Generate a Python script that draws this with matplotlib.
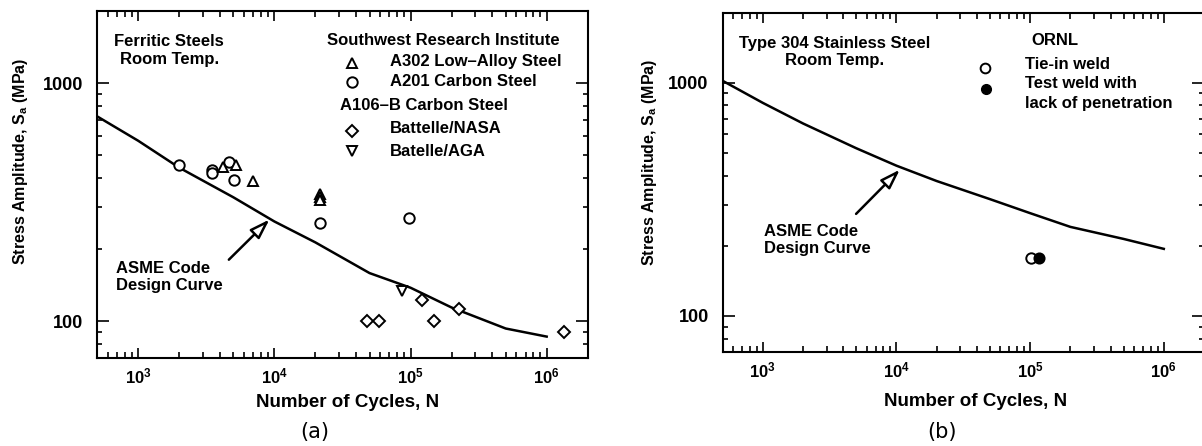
import numpy as np
import matplotlib
matplotlib.use('Agg')
import matplotlib.pyplot as plt
from matplotlib.ticker import LogLocator, NullFormatter

plt.rcParams['font.family'] = ['Liberation Sans', 'DejaVu Sans']
plt.rcParams['font.weight'] = 'bold'
plt.rcParams['axes.labelweight'] = 'bold'
plt.rcParams['mathtext.fontset'] = 'custom'
plt.rcParams['mathtext.rm'] = 'Liberation Sans:bold'
plt.rcParams['mathtext.it'] = 'Liberation Sans:bold'
plt.rcParams['mathtext.bf'] = 'Liberation Sans:bold'

# ASME code design curves (cycles, MPa)
asme_n = [500, 1e3, 2e3, 5e3, 1e4, 2e4, 5e4, 1e5, 2e5, 5e5, 1e6]
asme_cs = [724, 572, 441, 331, 262, 214, 159, 138, 114, 93, 86]      # carbon steel
asme_ss = [1020, 820, 669, 524, 441, 379, 317, 276, 241, 214, 194]   # austenitic SS

# (a) ferritic steels, room temp.
a302_n = [4200, 5220, 6980, 21500, 21500, 21500]
a302_s = [445, 454, 387, 342, 332, 323]
a201_n = [2000, 3460, 3460, 4680, 5090, 21700, 98000]
a201_s = [454, 433, 419, 467, 391, 258, 270]
nasa_n = [48000, 59000, 121000, 148000, 228000, 1.33e6]
nasa_s = [100, 100, 123, 100, 112, 90]
aga_n = [86000]
aga_s = [134]

# (b) type 304 stainless steel, room temp.
tie_n = [1.02e5]
tie_s = [178]
lop_n = [1.17e5]
lop_s = [178]

xticks = [1e3, 1e4, 1e5, 1e6]
xticklabels = [r'$\mathrm{10^{3}}$', r'$\mathrm{10^{4}}$', r'$\mathrm{10^{5}}$', r'$\mathrm{10^{6}}$']
ylab = r'Stress Amplitude, S$_\mathrm{a}$ (MPa)'
xlab = 'Number of Cycles, N'


def style(ax):
    ax.set_xscale('log')
    ax.set_yscale('log')
    ax.set_xlim(500, 2e6)
    ax.set_ylim(70, 2000)
    ax.set_xticks(xticks, xticklabels)
    ax.set_yticks([100, 1000], ['100', '1000'])
    ax.xaxis.set_minor_locator(LogLocator(base=10, subs=np.arange(2, 10)))
    ax.yaxis.set_minor_locator(LogLocator(base=10, subs=np.arange(2, 10)))
    ax.xaxis.set_minor_formatter(NullFormatter())
    ax.yaxis.set_minor_formatter(NullFormatter())
    ax.tick_params(which='both', direction='in', top=True, right=True, width=1.2)
    ax.tick_params(axis='x', which='major', length=7.5, labelsize=12, pad=6)
    ax.tick_params(axis='x', which='minor', length=4.5)
    ax.tick_params(axis='y', which='major', length=8.5, labelsize=13, pad=10)
    ax.tick_params(axis='y', which='minor', length=3.5)
    for sp in ax.spines.values():
        sp.set_linewidth(1.5)


fig = plt.figure(figsize=(12.02, 4.46), dpi=100)
ax1 = fig.add_axes([0.0809, 0.1976, 0.4080, 0.7768])
ax2 = fig.add_axes([0.6011, 0.2105, 0.4006, 0.7614])

arrow = dict(arrowstyle='-|>,head_length=1.2,head_width=0.4', fc='white',
             ec='black', lw=1.8, shrinkA=0, shrinkB=0, mutation_scale=10)

## (a)
style(ax1)
ax1.plot(asme_n, asme_cs, color='black', lw=1.8)
mk = dict(ls='none', mfc='white', mec='black', mew=1.4, clip_on=False)
ax1.plot(a201_n, a201_s, marker='o', ms=7.5, **mk)
ax1.plot(a302_n, a302_s, marker='^', ms=7.5, **mk)
ax1.plot(nasa_n, nasa_s, marker='D', ms=6.3, **mk)
ax1.plot(aga_n, aga_s, marker='v', ms=7.5, **mk)

ax1.annotate('', xy=(9200, 267), xytext=(4630, 181), arrowprops=arrow)
ax1.text(0.039, 0.233, 'ASME Code\nDesign Curve', transform=ax1.transAxes,
         fontsize=12, ha='left', va='center', linespacing=1.2)
ax1.text(0.147, 0.887, 'Ferritic Steels\nRoom Temp.', transform=ax1.transAxes,
         fontsize=12, ha='center', va='center', multialignment='center', linespacing=1.2)

ax1.text(0.705, 0.916, 'Southwest Research Institute', transform=ax1.transAxes,
         fontsize=12, ha='center', va='center')
ax1.text(0.597, 0.855, 'A302 Low–Alloy Steel', transform=ax1.transAxes,
         fontsize=12, ha='left', va='center')
ax1.text(0.597, 0.799, 'A201 Carbon Steel', transform=ax1.transAxes,
         fontsize=12, ha='left', va='center')
ax1.text(0.495, 0.729, 'A106–B Carbon Steel', transform=ax1.transAxes,
         fontsize=12, ha='left', va='center')
ax1.text(0.597, 0.661, 'Battelle/NASA', transform=ax1.transAxes,
         fontsize=12, ha='left', va='center')
ax1.text(0.597, 0.596, 'Batelle/AGA', transform=ax1.transAxes,
         fontsize=12, ha='left', va='center')
ax1.plot([0.519], [0.851], marker='^', ms=7.5, transform=ax1.transAxes, **mk)
ax1.plot([0.519], [0.795], marker='o', ms=7.5, transform=ax1.transAxes, **mk)
ax1.plot([0.519], [0.656], marker='D', ms=6.3, transform=ax1.transAxes, **mk)
ax1.plot([0.519], [0.596], marker='v', ms=7.5, transform=ax1.transAxes, **mk)

ax1.set_xlabel(xlab, fontsize=13.5, va='top')
ax1.xaxis.set_label_coords(0.511, -0.105)
ax1.set_ylabel(ylab, fontsize=11.5, va='center')
ax1.yaxis.set_label_coords(-0.157, 0.567)

## (b)
style(ax2)
ax2.spines['right'].set_visible(False)
ax2.plot(asme_n, asme_ss, color='black', lw=1.8)
ax2.plot(tie_n, tie_s, marker='o', ms=7.5, **mk)
ax2.plot(lop_n, lop_s, ls='none', marker='o', ms=7.5, mfc='black', mec='black', mew=1.2)

ax2.annotate('', xy=(10600, 424), xytext=(4990, 274), arrowprops=arrow)
ax2.text(0.086, 0.33, 'ASME Code\nDesign Curve', transform=ax2.transAxes,
         fontsize=12, ha='left', va='center', linespacing=1.2)
ax2.text(0.232, 0.884, 'Type 304 Stainless Steel\nRoom Temp.', transform=ax2.transAxes,
         fontsize=12, ha='center', va='center', multialignment='center', linespacing=1.2)

ax2.text(0.690, 0.919, 'ORNL', transform=ax2.transAxes, fontsize=12, ha='center', va='center')
ax2.text(0.628, 0.846, 'Tie-in weld', transform=ax2.transAxes, fontsize=12, ha='left', va='center')
ax2.text(0.628, 0.792, 'Test weld with', transform=ax2.transAxes, fontsize=12, ha='left', va='center')
ax2.text(0.628, 0.731, 'lack of penetration', transform=ax2.transAxes, fontsize=12,
         ha='left', va='center')
ax2.plot([0.546], [0.838], marker='o', ms=7, transform=ax2.transAxes, **mk)
ax2.plot([0.548], [0.775], marker='o', ms=7, mfc='black', mec='black', ls='none',
         transform=ax2.transAxes, clip_on=False)

ax2.set_xlabel(xlab, fontsize=13.5, va='top')
ax2.xaxis.set_label_coords(0.526, -0.12)
ax2.set_ylabel(ylab, fontsize=11.5, va='center')
ax2.yaxis.set_label_coords(-0.151, 0.559)

fig.text(0.262, 0.031, '(a)', fontsize=15, fontweight='normal', family='DejaVu Sans',
         ha='center', va='center')
fig.text(0.784, 0.031, '(b)', fontsize=15, fontweight='normal', family='DejaVu Sans',
         ha='center', va='center')

fig.savefig('out.png', dpi=100)
